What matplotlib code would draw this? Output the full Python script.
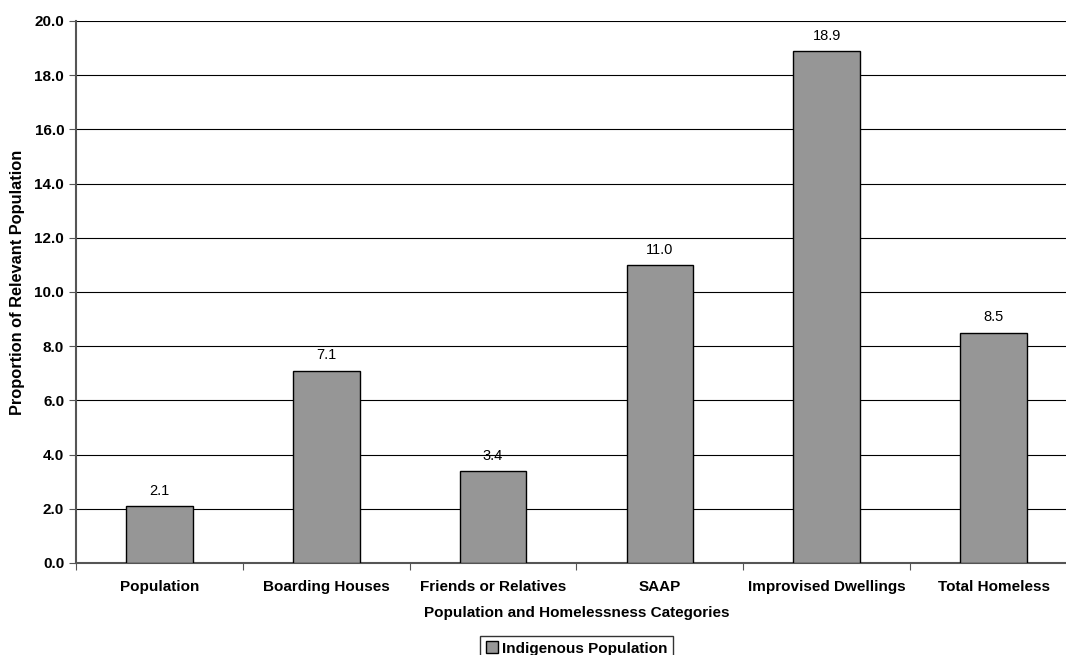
import matplotlib
matplotlib.use("Agg")
import matplotlib.pyplot as plt
import numpy as np

plt.rcParams['font.family'] = ['Liberation Sans', 'DejaVu Sans']

categories = ["Population", "Boarding Houses", "Friends or Relatives", "SAAP",
              "Improvised Dwellings", "Total Homeless"]
values = [2.1, 7.1, 3.4, 11.0, 18.9, 8.5]
series_name = "Indigenous Population"

fig = plt.figure(figsize=(10.66, 6.55), dpi=100)
ax = fig.add_axes([0.0713, 0.1405, 0.939, 0.8275])

x = np.arange(len(categories))
bars = ax.bar(x, values, width=0.4, color="#969696", edgecolor="black",
              linewidth=1.0, label=series_name, zorder=3)

for xi, v in zip(x, values):
    ax.text(xi, v + 0.3, f"{v:.1f}", ha="center", va="bottom", fontsize=10.5)

ax.set_xlim(-0.5, len(categories) - 0.5)
ax.set_ylim(0, 20)
ax.set_yticks(np.arange(0, 20.1, 2))
ax.set_yticklabels([f"{t:.1f}" for t in np.arange(0, 20.1, 2)],
                   fontsize=11, fontweight="bold")
ax.yaxis.grid(True, color="black", linewidth=0.8, zorder=0)

# category labels centred, tick marks between categories
ax.set_xticks(np.arange(-0.5, len(categories)), minor=False)
ax.set_xticklabels([])
ax.set_xticks(x, minor=True)
ax.set_xticklabels(categories, minor=True, fontsize=11, fontweight="bold")
ax.tick_params(axis="x", which="minor", length=0, pad=12)
ax.tick_params(axis="x", which="major", length=5, color="#555555")
ax.tick_params(axis="y", length=5, color="#555555")

for side in ["top", "right"]:
    ax.spines[side].set_visible(False)
ax.spines["left"].set_color("#555555")
ax.spines["left"].set_linewidth(1.5)
ax.spines["bottom"].set_color("#555555")
ax.spines["bottom"].set_linewidth(1.5)

ax.set_xlabel("Population and Homelessness Categories", fontsize=11,
              fontweight="bold", labelpad=9)
ax.set_ylabel("Proportion of Relevant Population", fontsize=11.8,
              fontweight="bold")
ax.yaxis.set_label_coords(-0.051, 0.517)

fig.legend(handles=[bars], labels=[series_name], loc="upper center",
           bbox_to_anchor=(0.541, 0.029), frameon=True, fancybox=False,
           edgecolor="black", prop={"weight": "bold", "size": 11},
           handlelength=0.8, handleheight=0.8, handletextpad=0.3,
           borderpad=0.35, borderaxespad=0)

fig.savefig("out.png", dpi=100)
